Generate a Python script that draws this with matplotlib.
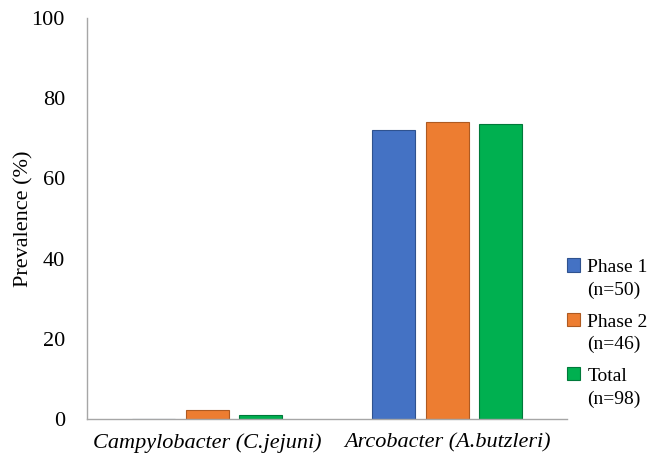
import matplotlib
matplotlib.use("Agg")
import matplotlib.pyplot as plt
from matplotlib.patches import Patch, Rectangle
from matplotlib.legend_handler import HandlerPatch
import numpy as np

categories = ["Campylobacter (C.jejuni)", "Arcobacter (A.butzleri)"]
series_names = ["Phase 1\n(n=50)", "Phase 2\n(n=46)", "Total\n(n=98)"]
phase1 = [0.0, 72.0]
phase2 = [2.2, 74.0]
total = [1.1, 73.5]
y_ticks = [0, 20, 40, 60, 80, 100]

colors = ["#4472C4", "#ED7D31", "#00B050"]
edges = ["#2F528F", "#AE5A21", "#00793A"]

plt.rcParams['font.family'] = ['Liberation Serif', 'DejaVu Serif']

fig = plt.figure(figsize=(6.55, 4.58), dpi=100)
ax = fig.add_axes([0.133, 0.085, 0.733, 0.876])

x = np.arange(len(categories))
width = 0.178
offset = 0.223
for i, (vals, name) in enumerate(zip([phase1, phase2, total], series_names)):
    ax.bar(x + (i - 1) * offset, vals, width, color=colors[i],
           edgecolor=edges[i], linewidth=0.8, label=name)

ax.set_xlim(-0.5, 1.5)
ax.set_ylim(0, 100)
ax.set_yticks(y_ticks)
ax.set_yticklabels([str(t) for t in y_ticks], fontsize=16)
ax.set_xticks(x)
ax.set_xticklabels(categories, fontsize=16, style='italic')
ax.tick_params(axis='both', length=0)
ax.tick_params(axis='y', pad=16)
ax.tick_params(axis='x', pad=10)
ax.set_ylabel("Prevalence (%)", fontsize=16)
ax.yaxis.set_label_coords(-0.112, 0.5)

for s in ["top", "right"]:
    ax.spines[s].set_visible(False)
for s in ["left", "bottom"]:
    ax.spines[s].set_color("#A6A6A6")
    ax.spines[s].set_linewidth(1.0)


def top_square(legend, orig_handle, xdescent, ydescent, width, height, fontsize):
    shift = 0.72 * fontsize
    return Rectangle((-xdescent, -ydescent + shift), width, height)


handles = [Patch(facecolor=colors[i], edgecolor=edges[i], linewidth=0.8)
           for i in range(3)]
leg = fig.legend(handles=handles, labels=series_names, loc="upper left",
                 bbox_to_anchor=(0.866, 0.4335), frameon=False, fontsize=14,
                 borderpad=0, borderaxespad=0,
                 handlelength=0.68, handleheight=0.68, handletextpad=0.36,
                 labelspacing=0.76,
                 handler_map={Patch: HandlerPatch(patch_func=top_square)})
for t in leg.get_texts():
    t.set_linespacing(1.4)

fig.savefig("out.png", dpi=100)
